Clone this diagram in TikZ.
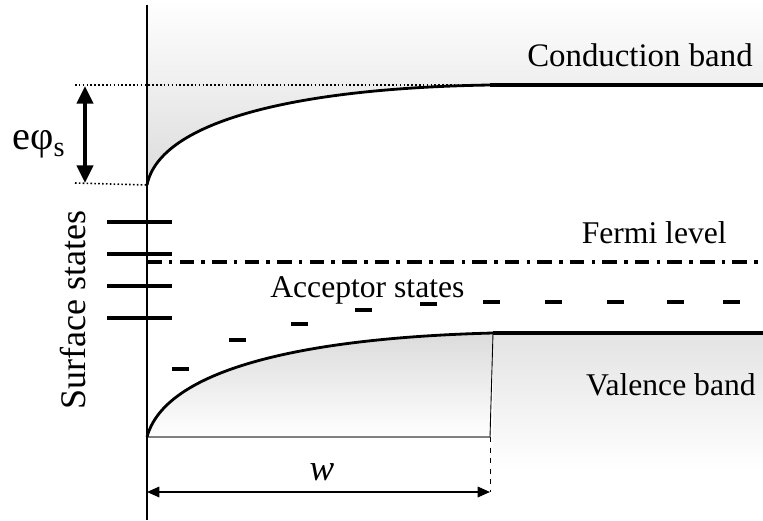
\documentclass[tikz,border=0pt]{standalone}
\usepackage{fontspec}
\setmainfont{Liberation Serif}
\usepackage{tikz}
\usetikzlibrary{arrows.meta,positioning,calc}

\begin{document}
\begin{tikzpicture}[x=0.02cm,y=-0.02cm,>=Triangle,
  band/.style={line width=2.3pt},
  bendline/.style={line width=1.6pt},
  lvl/.style={line width=2.3pt},
  acc/.style={line width=1.9pt},
  lbl/.style={font=\fontsize{18}{21}\selectfont,inner sep=0pt},
  guide/.style={line width=0.9pt,dash pattern=on 0.9pt off 1.3pt}]
\useasboundingbox (0,0) rectangle (763,520);
% points of the band diagram
\coordinate (cbS) at (147,185);
\coordinate (cbE) at (490,85);
\coordinate (cbR) at (763,85);
\coordinate (vbS) at (147,437);
\coordinate (vbE) at (493,333);
\coordinate (vbR) at (763,333);
\coordinate (wL) at (147,492);
\coordinate (wR) at (490,492);
\coordinate (wB) at (490,437);
% shaded bands
\fill[top color=white,bottom color=gray!28] (147,0) -- (763,0) -- (cbR) -- (cbE)
  .. controls (300,88) and (160,120) .. (cbS) -- cycle;
\fill[top color=gray!28,bottom color=white] (vbS) .. controls (165,370) and (300,338) .. (vbE)
  -- (wB) -- cycle;
\fill[top color=gray!22,bottom color=white] (vbE) rectangle (763,470);
\draw[gray,line width=0.6pt] (vbS) -- (wB);
\draw[line width=0.5pt] (vbE) -- (wB);
% band edges
\draw[bendline] (cbS) .. controls (160,120) and (300,88) .. (cbE);
\draw[band] (cbE) -- (cbR);
\draw[bendline] (vbS) .. controls (165,370) and (300,338) .. (vbE);
\draw[band] (vbE) -- (vbR);
% fermi level
\draw[line width=2.2pt,dash pattern=on 8.5pt off 4pt on 2pt off 4pt] (147,262) -- (763,262);
% surface band bending
\draw[guide] (75,85) -- (cbE);
\draw[guide] (75,183) -- (cbS);
\draw[<->,line width=2.3pt,>={Triangle[width=9pt,length=10pt]}] (85,86) -- (85,183);
\node[font=\fontsize{23}{27}\selectfont,inner sep=0pt,anchor=base west] (phis) at (12,150) {eφ\textsubscript{s}};
% surface states
\foreach \y in {222,254,286,318}
  \draw[lvl] (107,\y) -- (172,\y);
\node[font=\fontsize{20.5}{24}\selectfont,inner sep=0pt,rotate=90,anchor=base] (surf) at (85,310) {Surface states};
% acceptor states
\foreach \x/\y in {172/369,229/340,291/324,355/310,420/304,483/302,545/302,607/302,667/302,723/302}
  \draw[acc] (\x,\y) -- ++(17,0);
% axis
\draw[line width=0.9pt] (147,5) -- (147,520);
% depletion width
\draw[dashed,line width=0.5pt] (wB) -- (wR);
\draw[<->,line width=0.9pt,>={Triangle[width=6pt,length=7pt]}] (wL) -- (wR);
\node[font=\fontsize{21}{24}\selectfont\itshape,inner sep=0pt,anchor=base] (w) at (322,480) {w};
% labels
\node[lbl,anchor=base east,font=\fontsize{18.7}{22}\selectfont] (cb) at (753,67) {Conduction band};
\node[lbl,anchor=base east] (fl) at (727,243) {Fermi level};
\node[lbl,anchor=base west] (as) at (270,297) {Acceptor states};
\node[lbl,anchor=base east] (vb) at (756,395) {Valence band};
\end{tikzpicture}
\end{document}
